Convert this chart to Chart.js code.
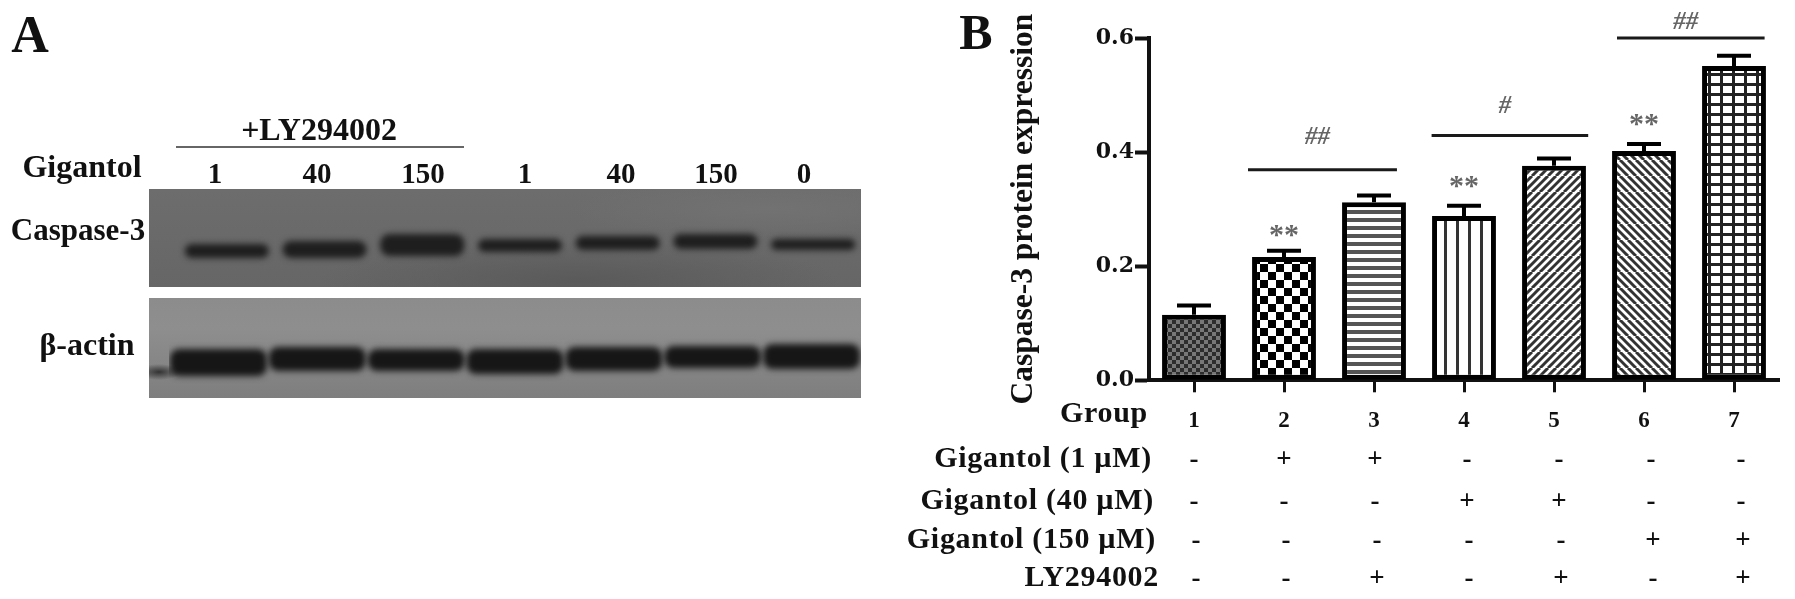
<!DOCTYPE html>
<html><head><meta charset="utf-8">
<script src="https://cdn.jsdelivr.net/npm/chart.js@4"></script>
<style>
html,body{margin:0;padding:0;background:#fff;}
#page{position:relative;width:1795px;height:599px;overflow:hidden;filter:blur(0.55px);font-family:"Liberation Serif",serif;font-weight:bold;color:#111;}
#page canvas{position:absolute;}
.t{position:absolute;white-space:nowrap;line-height:1;transform:translate(-50%,-50%);}
.blot{position:absolute;left:149px;width:712px;}
</style></head><body>
<div id="page">
  <div class="t" style="left:30px;top:35px;font-size:52px;">A</div>
  <div class="t" style="left:319px;top:129px;font-size:32px;">+LY294002</div>
  <div style="position:absolute;left:176px;top:146px;width:288px;height:2px;background:#666;"></div>
  <div class="t" style="left:82px;top:166px;font-size:32px;">Gigantol</div>
  <div class="t" style="left:78px;top:229px;font-size:31px;">Caspase-3</div>
  <div class="t" style="left:87px;top:344px;font-size:32px;">β-actin</div>
  <div id="lanes"></div>
  <div class="blot" style="top:189px;height:98px;background:radial-gradient(ellipse 260px 40px at 430px 92px,#5a5a5a,transparent),radial-gradient(ellipse 200px 30px at 620px 20px,#727272,transparent),linear-gradient(#6d6d6d,#666);"></div>
  <div class="blot" style="top:298px;height:100px;background:radial-gradient(ellipse 22px 8px at 10px 74px,#333,transparent),linear-gradient(#8c8c8c,#8e8e8e 30%,#858585 70%,#7e7e7e);"></div>
  <canvas id="blotCasp" width="684" height="98" style="left:178px;top:189px;"></canvas>
  <canvas id="blotActin" width="692" height="100" style="left:169px;top:298px;"></canvas>
  <div class="t" style="left:976px;top:32px;font-size:50px;">B</div>
  <canvas id="chartB" width="895" height="599" style="left:900px;top:0;"></canvas>
</div>
<script>
// ---- Panel B data ----
const groups = ['1','2','3','4','5','6','7'];
const expression = [0.115,0.216,0.312,0.288,0.376,0.402,0.551];
const errorTop = [0.131,0.227,0.324,0.306,0.389,0.414,0.569];
const yTicks = [0,0.2,0.4,0.6];
const rowNames = ['Gigantol (1 µM)','Gigantol (40 µM)','Gigantol (150 µM)','LY294002'];
const gigantol1 = ['-','+','+','-','-','-','-'];
const gigantol40 = ['-','-','-','+','+','-','-'];
const gigantol150 = ['-','-','-','-','-','+','+'];
const ly294002 = ['-','-','+','-','+','-','+'];
const bracketFrom = [0.6,2.64,4.7];
const bracketTo = [2.255,4.38,6.34];
const bracketValue = [0.369,0.429,0.6];
const bracketMark = ['##','#','##'];
const starGroups = [1,3,5];
const starValue = [0.262,0.347,0.455];
// ---- Panel A data ----
const laneDoses = ['1','40','150','1','40','150','0'];
const caspaseBands = [[55,69],[52,69],[45,67],[50,63],[47,61],[45,60],[50,61]];
const actinBands = [[51,78],[49,73],[51,73],[51,76],[49,73],[48,70],[46,71]];

const lanesHost = document.getElementById('lanes');
const doseX = [215,317,423,525,621,716,804];
laneDoses.forEach((d,i)=>{
  const e=document.createElement('div');e.className='t';e.textContent=d;
  e.style.cssText='left:'+doseX[i]+'px;top:173px;font-size:29px;';
  lanesHost.appendChild(e);
});

function tile(w,h,draw){
  const c=document.createElement('canvas');c.width=w;c.height=h;
  const x=c.getContext('2d');x.fillStyle='#fff';x.fillRect(0,0,w,h);draw(x);
  return x.createPattern(c,'repeat');
}
const patterns = [
  tile(8,8,x=>{x.fillStyle='#2c2c2c';x.fillRect(0,0,4,4);x.fillRect(4,4,4,4);x.fillStyle='#777';x.fillRect(4,0,4,4);x.fillRect(0,4,4,4);}),
  tile(16,16,x=>{x.fillStyle='#000';x.fillRect(0,0,8,8);x.fillRect(8,8,8,8);}),
  tile(8,8,x=>{x.fillStyle='#555';x.fillRect(0,2,8,4);}),
  tile(12,8,x=>{x.fillStyle='#333';x.fillRect(4,0,3,8);}),
  tile(16,16,x=>{x.strokeStyle='#333';x.lineWidth=3;for(let k=-16;k<=32;k+=8){x.beginPath();x.moveTo(k,16);x.lineTo(k+16,0);x.stroke();}}),
  tile(16,16,x=>{x.strokeStyle='#333';x.lineWidth=3;for(let k=-16;k<=32;k+=8){x.beginPath();x.moveTo(k,0);x.lineTo(k+16,16);x.stroke();}}),
  tile(12,10,x=>{x.fillStyle='#222';x.fillRect(0,3,12,3);x.fillRect(4,0,3,10);})
];

const overlay = {
  id:'overlay',
  afterDatasetsDraw(chart){
    const {ctx,scales:{x,y}}=chart;
    ctx.save();
    // error bars
    ctx.strokeStyle='#000';ctx.lineWidth=4;
    errorTop.forEach((v,i)=>{
      const px=x.getPixelForValue(i),top=y.getPixelForValue(v),base=y.getPixelForValue(expression[i]);
      ctx.beginPath();ctx.moveTo(px,base);ctx.lineTo(px,top);ctx.moveTo(px-17,top);ctx.lineTo(px+17,top);ctx.stroke();
    });
    // significance brackets
    ctx.strokeStyle='#1a1a1a';ctx.lineWidth=3;
    ctx.textAlign='center';ctx.textBaseline='middle';
    bracketValue.forEach((v,i)=>{
      const py=y.getPixelForValue(v),a=x.getPixelForValue(bracketFrom[i]),b=x.getPixelForValue(bracketTo[i]);
      ctx.beginPath();ctx.moveTo(a,py);ctx.lineTo(b,py);ctx.stroke();
      ctx.fillStyle='#666';ctx.font='italic bold 25px "Liberation Serif"';
      ctx.fillText(bracketMark[i],(a+b)/2-5,py-(i===1?29:i===0?32:15));
    });
    ctx.font='bold 30px "Liberation Serif"';ctx.fillStyle='#666';
    starGroups.forEach((g,i)=>{
      ctx.fillText('**',x.getPixelForValue(g),y.getPixelForValue(starValue[i])+5);
    });
    // treatment table
    ctx.fillStyle='#111';ctx.textBaseline='middle';
    ctx.font='bold 30px "Liberation Serif"';ctx.textAlign='right';
    ctx.letterSpacing='0.7px';
    const cv=chart.canvas.offsetLeft;
    const labelRight=[1152,1154,1156,1159];
    const rowY=[459,501,540,578];
    ctx.fillText('Group',1148-cv,414);
    rowNames.forEach((n,r)=>ctx.fillText(n,labelRight[r]-cv,rowY[r]));
    ctx.letterSpacing='0px';
    ctx.textAlign='center';
    const skew=[0,0,1,3,5,7,7];
    [gigantol1,gigantol40,gigantol150,ly294002].forEach((row,r)=>{
      row.forEach((s,i)=>{
        ctx.font='bold 27px "Liberation Serif"';
        ctx.fillText(s,x.getPixelForValue(i)+skew[i]+(r>1?2:0),rowY[r]+1);
      });
    });
    ctx.restore();
  }
};

new Chart(document.getElementById('chartB'),{
  type:'bar',
  data:{labels:groups,datasets:[{data:expression,backgroundColor:patterns,borderColor:'#000',borderWidth:5,borderSkipped:false,barPercentage:0.71,categoryPercentage:1}]},
  plugins:[overlay],
  options:{
    responsive:false,animation:false,
    layout:{padding:{left:105,right:16,top:38,bottom:0}},
    plugins:{legend:{display:false},tooltip:{enabled:false}},
    scales:{
      x:{
        grid:{offset:false,drawOnChartArea:false,drawTicks:true,tickLength:12,tickWidth:3,tickColor:'#111'},
        border:{color:'#111',width:4},
        ticks:{color:'#111',font:{family:'Liberation Serif',weight:'bold',size:23},padding:15,maxRotation:0},
        afterFit(s){s.height=218.7;}
      },
      y:{
        min:0,max:0.6,
        afterBuildTicks(s){s.ticks=yTicks.map(v=>({value:v}));},
        grid:{drawOnChartArea:false,drawTicks:true,tickLength:14,tickWidth:4,tickColor:'#111'},
        border:{color:'#111',width:4},
        ticks:{color:'#111',font:{family:'DejaVu Serif',weight:'bold',size:22},padding:1,callback:v=>v.toFixed(1)},
        title:{display:true,text:'Caspase-3 protein expression',color:'#111',font:{family:'Liberation Serif',weight:'bold',size:31.5},padding:{top:0,bottom:0}},
        afterFit(s){s.width=144;}
      }
    }
  }
});

const blurBands={id:'blurBands',
  beforeDatasetsDraw(c){c.ctx.save();c.ctx.filter='blur(3px)';},
  afterDatasetsDraw(c){c.ctx.restore();}
};
function blotChart(id,bands,color,pct){
  new Chart(document.getElementById(id),{
    type:'bar',
    data:{labels:laneDoses,datasets:[{data:bands,backgroundColor:color,borderRadius:9,borderSkipped:false,barPercentage:pct,categoryPercentage:1}]},
    plugins:[blurBands],
    options:{responsive:false,animation:false,layout:{padding:0},
      plugins:{legend:{display:false},tooltip:{enabled:false}},
      scales:{x:{display:false},y:{display:false,reverse:true,min:0,max:document.getElementById(id).height}}}
  });
}
blotChart('blotCasp',caspaseBands,'#1e1e1e',0.86);
blotChart('blotActin',actinBands,'#161616',0.98);
</script>
</body></html>
